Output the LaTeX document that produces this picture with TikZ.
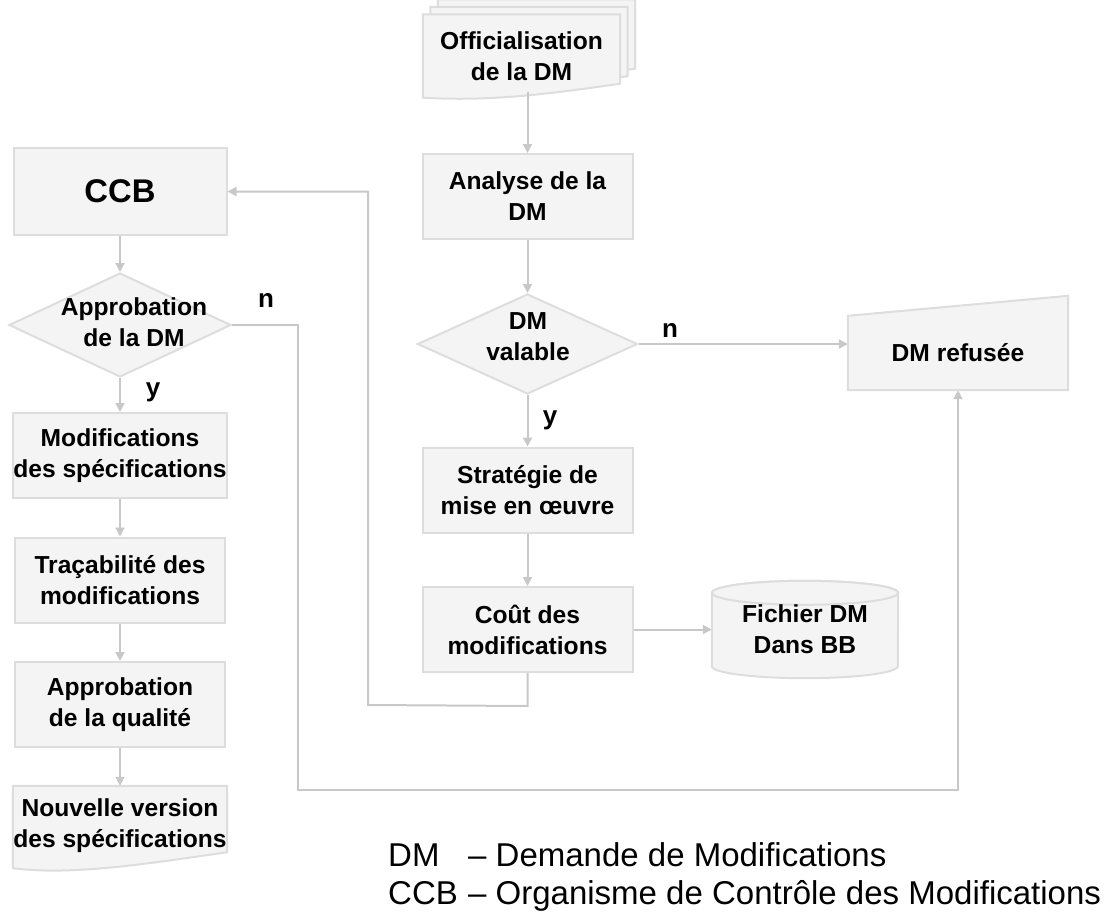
\documentclass[tikz,border=0pt]{standalone}
\usepackage{fontspec}
\setmainfont{Liberation Sans}
\usetikzlibrary{arrows.meta,shapes.geometric,backgrounds}

\definecolor{boxfill}{HTML}{F4F4F4}
\definecolor{boxline}{HTML}{DDDDDD}
\definecolor{linegray}{HTML}{C8C8C8}

\tikzset{
    txt/.style={font=\fontsize{24.6}{31}\selectfont\bfseries, align=center},
    process/.style={txt, rectangle, draw=boxline, fill=boxfill, line width=2pt,
        minimum width=210, minimum height=85, inner sep=0pt},
    decision/.style={diamond, draw=boxline, fill=boxfill, line width=2pt,
        minimum width=220, minimum height=100, inner sep=0pt},
    shapeline/.style={draw=boxline, fill=boxfill, line width=2pt},
    conn/.style={draw=linegray, line width=2pt, -{Triangle[length=9pt,width=9pt]}},
    yn/.style={font=\fontsize{26}{30}\selectfont\bfseries},
    legend/.style={font=\fontsize{33}{38}\selectfont, anchor=base west, inner sep=0pt}
}

\begin{document}
\begin{tikzpicture}[x=1pt,y=-1pt]
    \useasboundingbox (0,0) rectangle (1120,919);

    % right column
    \node[txt, minimum width=197, minimum height=83, inner sep=0pt] (offic) at (521.5,56) {Officialisation\\de la DM};
    \node[process] (analyse) at (527.5,196.5) {Analyse de la\\DM};
    \node[decision] (valable) at (527.5,344) {};
    \node[txt] (valable-t) at (528,337) {DM\\valable};
    \node[process] (strat) at (527.5,490) {Stratégie de\\mise en œuvre};
    \node[process] (cout) at (527.5,629.5) {Coût des\\modifications};
    \node[txt, minimum width=186, minimum height=97, inner sep=0pt] (fichier) at (805,629.5) {Fichier DM\\Dans BB};
    \node[txt, minimum width=220, minimum height=74, inner sep=0pt] (refus) at (958,353) {DM refusée};

    % left column
    \node[process, font=\fontsize{32.8}{36}\selectfont\bfseries, minimum width=213, minimum height=87] (ccb) at (120,191.5) {CCB};
    \node[decision, minimum width=222, minimum height=104] (approb) at (120,325) {};
    \node[txt] (approb-t) at (134,322) {Approbation\\de la DM};
    \node[process] (modif) at (120,455.5) {Modifications\\des spécifications};
    \node[process] (traca) at (120,580) {Traçabilité des\\modifications};
    \node[process] (qualite) at (120,704.5) {Approbation\\de la qualité};
    \node[txt, minimum width=214, minimum height=80, inner sep=0pt] (nouv) at (120,826) {Nouvelle version\\des spécifications};

    % drawn shapes
    \begin{scope}[on background layer]
        \foreach \d in {15,7.5,0} {
            \draw[shapeline] ([shift={(\d pt,\d pt)}]offic.north west)
                -- ([shift={(\d pt,\d pt)}]offic.north east)
                -- ([shift={(\d pt,\d pt+14pt)}]offic.south east)
                .. controls ([shift={(\d pt-70pt,\d pt+4pt)}]offic.south east)
                and ([shift={(\d pt+70pt,\d pt-4pt)}]offic.south west) ..
                   ([shift={(\d pt,\d pt)}]offic.south west) -- cycle;
        }
        \draw[shapeline] (nouv.north west) -- (nouv.north east)
            -- ([yshift=14pt]nouv.south east)
            .. controls ([xshift=-70pt,yshift=4pt]nouv.south east)
            and ([xshift=60pt,yshift=-10pt]nouv.south west) ..
               ([yshift=-2pt]nouv.south west) -- cycle;
        \draw[shapeline] (refus.north west) -- ([yshift=20pt]refus.north east)
            -- (refus.south east) -- (refus.south west) -- cycle;
        \draw[shapeline] ([yshift=-12pt]fichier.north west)
            -- ([yshift=12pt]fichier.south west)
            arc[start angle=180, end angle=360, x radius=93pt, y radius=12pt]
            -- ([yshift=-12pt]fichier.north east)
            arc[start angle=0, end angle=180, x radius=93pt, y radius=12pt];
        \draw[shapeline] ([yshift=-12pt]fichier.north) ellipse[x radius=93pt, y radius=12pt];
    \end{scope}

    % connectors
    \draw[conn] ([xshift=6pt,yshift=6pt]offic.south) -- (analyse);
    \draw[conn] (analyse) -- (valable);
    \draw[conn] (valable) -- (strat);
    \draw[conn] (strat) -- (cout);
    \draw[conn] (cout) -- (fichier);
    \draw[conn] (valable.east) -- (refus.west |- valable.east);
    \draw[conn] (cout.south) -- ++(0,33) -- (368,705) |- (ccb.east);
    \draw[conn] (ccb) -- (approb);
    \draw[conn] (approb) -- (modif);
    \draw[conn] (modif) -- (traca);
    \draw[conn] (traca) -- (qualite);
    \draw[conn] (qualite) -- (nouv.north);
    \draw[conn] (approb.east) -- (298,325) -- (298,790) -| (refus.south);

    % labels
    \node[yn] (n1) at (670,330) {n};
    \node[yn] (y1) at (550,420) {y};
    \node[yn] (n2) at (266,300) {n};
    \node[yn] (y2) at (153,392) {y};

    % legend
    \node[legend] (dm) at (388,866) {DM};
    \node[legend] (dm-d) at (468,866) {– Demande de Modifications};
    \node[legend] (ccb-l) at (388,904) {CCB};
    \node[legend] (ccb-d) at (468,904) {– Organisme de Contrôle des Modifications};
\end{tikzpicture}
\end{document}
